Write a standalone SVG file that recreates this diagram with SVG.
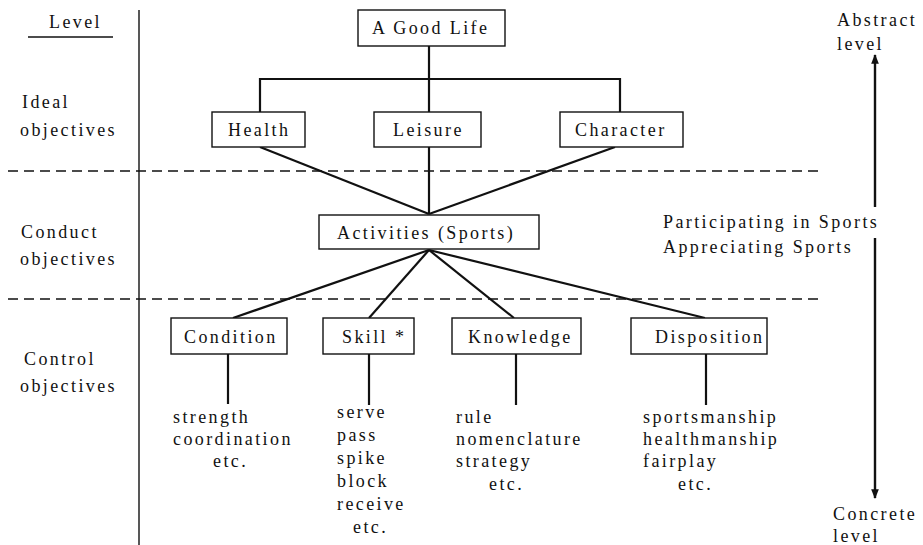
<svg xmlns="http://www.w3.org/2000/svg" width="923" height="545" viewBox="0 0 923 545">
<defs>
<style>
text{font-family:"Liberation Serif","Times New Roman",serif;font-size:18px;letter-spacing:2.4px;fill:#111}
.box{fill:#fff;stroke:#111;stroke-width:1.4}
.con{stroke:#111;stroke-width:2.2;fill:none}
.thin{stroke:#111;stroke-width:1.4;fill:none}
.dash{stroke:#111;stroke-width:1.3;stroke-dasharray:10 6;fill:none}
</style>
<marker id="ah" viewBox="0 0 10 10" refX="9" refY="5" markerWidth="5" markerHeight="4" orient="auto-start-reverse" markerUnits="strokeWidth">
<path d="M0,1 L10,5 L0,9 z" fill="#111"/>
</marker>
</defs>
<rect width="923" height="545" fill="#fff"/>

<g id="levels">
<text x="49" y="28">Level</text>
<line class="thin" x1="28" y1="37" x2="113" y2="37"/>
<text x="22" y="108">Ideal</text>
<text x="20" y="136">objectives</text>
<text x="21" y="238">Conduct</text>
<text x="20" y="265">objectives</text>
<text x="24" y="365">Control</text>
<text x="20" y="392">objectives</text>
<line class="thin" x1="139" y1="10" x2="139" y2="545"/>
</g>

<g id="dividers">
<line class="dash" x1="8" y1="171" x2="818" y2="171"/>
<line class="dash" x1="8" y1="299" x2="820" y2="299"/>
</g>

<g id="connectors">
<line class="con" x1="429" y1="46" x2="429" y2="112"/>
<polyline class="con" points="260,112 260,79 620,79 620,112"/>
<line class="con" x1="260" y1="147" x2="429" y2="214"/>
<line class="con" x1="429" y1="147" x2="429" y2="214"/>
<line class="con" x1="615" y1="147" x2="429" y2="214"/>
<line class="con" x1="429" y1="250" x2="233" y2="318"/>
<line class="con" x1="429" y1="250" x2="369" y2="318"/>
<line class="con" x1="429" y1="250" x2="514" y2="318"/>
<line class="con" x1="429" y1="250" x2="705" y2="318"/>
<line class="con" x1="228" y1="354" x2="228" y2="404"/>
<line class="con" x1="369" y1="354" x2="369" y2="405"/>
<line class="con" x1="516" y1="354" x2="516" y2="405"/>
<line class="con" x1="706" y1="354" x2="706" y2="405"/>
</g>

<g id="node-good-life">
<rect class="box" x="358" y="10" width="147" height="36"/>
<text x="372" y="34">A Good Life</text>
</g>
<g id="node-health">
<rect class="box" x="212" y="112" width="93" height="35"/>
<text x="228" y="136">Health</text>
</g>
<g id="node-leisure">
<rect class="box" x="374" y="112" width="107" height="35"/>
<text x="393" y="136">Leisure</text>
</g>
<g id="node-character">
<rect class="box" x="560" y="112" width="123" height="35"/>
<text x="575" y="136">Character</text>
</g>
<g id="node-activities">
<rect class="box" x="319" y="215" width="220" height="34"/>
<text x="337" y="239">Activities (Sports)</text>
</g>
<g id="node-condition">
<rect class="box" x="171" y="318" width="116" height="36"/>
<text x="184" y="343">Condition</text>
</g>
<g id="node-skill">
<rect class="box" x="323" y="318" width="91" height="36"/>
<text x="342" y="343">Skill *</text>
</g>
<g id="node-knowledge">
<rect class="box" x="452" y="318" width="129" height="36"/>
<text x="468" y="343">Knowledge</text>
</g>
<g id="node-disposition">
<rect class="box" x="631" y="318" width="136" height="36"/>
<text x="655" y="343">Disposition</text>
</g>

<g id="list-condition">
<text x="173" y="423">strength</text>
<text x="173" y="445">coordination</text>
<text x="213" y="467">etc.</text>
</g>
<g id="list-skill">
<text x="337" y="418">serve</text>
<text x="337" y="441">pass</text>
<text x="337" y="464">spike</text>
<text x="337" y="487">block</text>
<text x="337" y="510">receive</text>
<text x="353" y="533">etc.</text>
</g>
<g id="list-knowledge">
<text x="456" y="423">rule</text>
<text x="456" y="445">nomenclature</text>
<text x="456" y="467">strategy</text>
<text x="489" y="490">etc.</text>
</g>
<g id="list-disposition">
<text x="643" y="423">sportsmanship</text>
<text x="643" y="445">healthmanship</text>
<text x="643" y="467">fairplay</text>
<text x="678" y="490">etc.</text>
</g>

<g id="conduct-note">
<text x="663" y="228">Participating in Sports</text>
<text x="663" y="253">Appreciating Sports</text>
</g>

<g id="scale">
<text x="837" y="26">Abstract</text>
<text x="837" y="50">level</text>
<line stroke="#111" stroke-width="2.4" x1="875" y1="207" x2="875" y2="55" marker-end="url(#ah)"/>
<line stroke="#111" stroke-width="2.4" x1="875" y1="238" x2="875" y2="498" marker-end="url(#ah)"/>
<text x="833" y="520">Concrete</text>
<text x="833" y="542">level</text>
</g>
</svg>
